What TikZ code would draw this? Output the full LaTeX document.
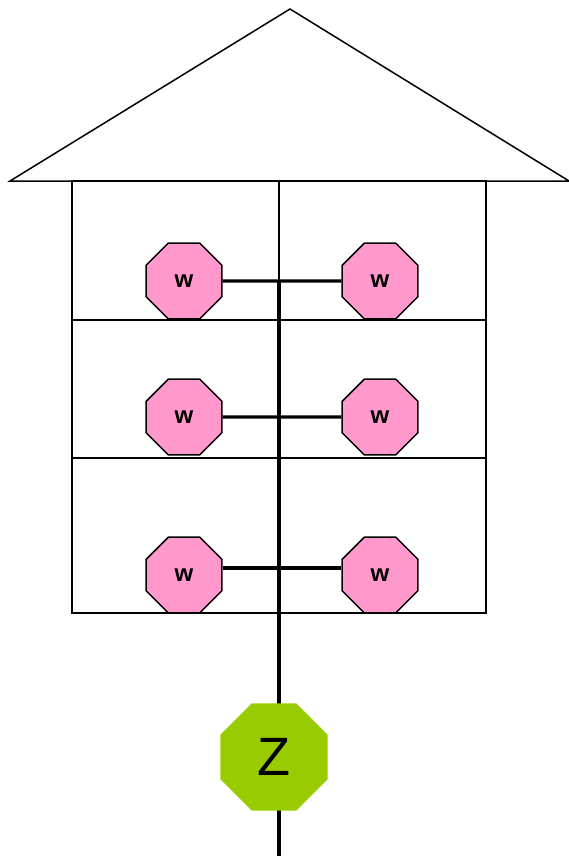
\documentclass[tikz,border=0pt]{standalone}
\usepackage{fontspec}
\setmainfont{Liberation Sans}
\usetikzlibrary{shapes.geometric,backgrounds}
\definecolor{wpink}{HTML}{FF99CC}
\definecolor{zgreen}{HTML}{99CC00}
\tikzset{
  wnode/.style={regular polygon,regular polygon sides=8,minimum size=82pt,
    inner sep=0pt,draw,line width=1.5pt,fill=wpink,
    font=\fontsize{24}{24}\selectfont\bfseries},
  znode/.style={regular polygon,regular polygon sides=8,minimum size=116pt,
    inner sep=0pt,fill=zgreen,font=\fontsize{54}{54}\selectfont},
  bus/.style={line width=3.2pt}
}
\begin{document}
\begin{tikzpicture}[x=1pt,y=-1pt,line width=1.5pt]
      \useasboundingbox (0,0) rectangle (569,856);
      % roof and rooms
      \draw (10,181) -- (290,9) -- (569,181) -- cycle;
      \draw (72,181) rectangle (486,613);
      \draw (72,320) -- (486,320);
      \draw (72,458) -- (486,458);
      \draw[line width=2.2pt] (279,181) -- (279,281);
      \coordinate (top) at (279,281);
      \coordinate (bot) at (279,856);
      \begin{scope}[on background layer]
        \draw[bus] (top) -- (bot);
      \end{scope}
      \draw
        (184,281) node[wnode] (w1){w}
        (380,281) node[wnode] (w2){w}
        (184,417) node[wnode] (w3){w}
        (380,417) node[wnode] (w4){w}
        (184,575) node[wnode] (w5){w}
        (380,575) node[wnode] (w6){w}
        (274,757) node[znode] (z){Z};
      \begin{scope}[bus]
        \draw (w1) to (w2);
        \draw (w3) to (w4);
        \draw ([yshift=7pt]w5.east) to ([yshift=7pt]w6.west);
      \end{scope}
    \end{tikzpicture}
\end{document}
